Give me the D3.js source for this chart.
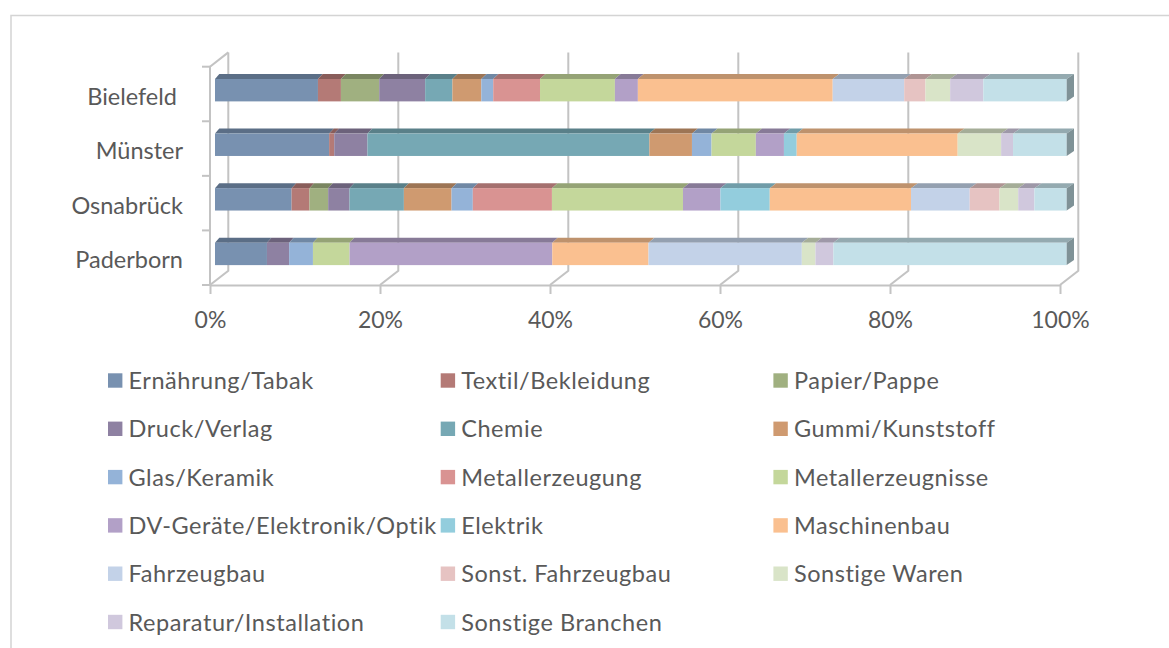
<!DOCTYPE html>
<meta charset="utf-8">
<title>Branchenstruktur</title>
<style>
    body {
        margin: 0;
        background: #fff;
    }

    text {
        font-family: Lato, "Open Sans", sans-serif;
        fill: #595959;
    }

    .wall {
        fill: none;
        stroke: #c3c3c3;
        stroke-width: 2;
    }

    .axis .domain,
    .axis line {
        stroke: #c3c3c3;
        stroke-width: 2;
    }
</style>

<body>
<svg width="1169" height="648"></svg>
</body>
<script src="https://d3js.org/d3.v7.min.js"></script>
<script>
    // cities (bars, top to bottom) - "Bielefeld " carries a trailing blank in the source sheet
    var cities = ["Bielefeld ", "Münster", "Osnabrück", "Paderborn"];

    var branches = ["Ernährung/Tabak", "Textil/Bekleidung", "Papier/Pappe", "Druck/Verlag", "Chemie",
        "Gummi/Kunststoff", "Glas/Keramik", "Metallerzeugung", "Metallerzeugnisse",
        "DV-Geräte/Elektronik/Optik", "Elektrik", "Maschinenbau", "Fahrzeugbau",
        "Sonst. Fahrzeugbau", "Sonstige Waren", "Reparatur/Installation", "Sonstige Branchen"];

    var colors = ["#7891b0", "#b47a76", "#a0b080", "#8e81a2", "#76a8b4", "#cf9a70", "#94b3d8",
        "#d99392", "#c4d79b", "#b2a0c7", "#93cddd", "#fac090", "#c3d2e8", "#e6c3c2",
        "#d9e4c8", "#d0c8dd", "#c3e0e8"];

    // shares in % per city: Bielefeld, Münster, Osnabrück, Paderborn
    var ernaehrung = [12.1, 13.4, 9.0, 6.1];
    var textil = [2.7, 0.6, 2.1, 0];
    var papier = [4.5, 0, 2.2, 0];
    var druck = [5.4, 3.9, 2.5, 2.6];
    var chemie = [3.2, 33.1, 6.4, 0];
    var gummi = [3.4, 5.0, 5.6, 0];
    var glas = [1.4, 2.3, 2.5, 2.8];
    var metallerzeugung = [5.5, 0, 9.3, 0];
    var metallerzeugnisse = [8.8, 5.2, 15.4, 4.3];
    var dvGeraete = [2.7, 3.3, 4.4, 23.8];
    var elektrik = [0, 1.5, 5.8, 0];
    var maschinenbau = [22.9, 18.9, 16.6, 11.3];
    var fahrzeugbau = [8.4, 0, 6.9, 18.0];
    var sonstFahrzeugbau = [2.5, 0, 3.5, 0];
    var sonstigeWaren = [2.9, 5.1, 2.2, 1.6];
    var reparatur = [3.9, 1.4, 1.9, 2.1];
    var sonstigeBranchen = [9.8, 6.3, 3.8, 27.4];

    var series = [ernaehrung, textil, papier, druck, chemie, gummi, glas, metallerzeugung,
        metallerzeugnisse, dvGeraete, elektrik, maschinenbau, fahrzeugbau, sonstFahrzeugbau,
        sonstigeWaren, reparatur, sonstigeBranchen];

    var table = cities.map(function(c, i) {
        var row = {city: c};
        branches.forEach(function(b, j) { row[b] = series[j][i]; });
        return row;
    });

    var stacked = d3.stack()
        .keys(branches)
        .offset(d3.stackOffsetExpand)(table);

    var svg = d3.select("svg");

    // chart frame
    svg.append("rect")
        .attr("x", 11).attr("y", 15.5)
        .attr("width", 1180).attr("height", 700)
        .attr("fill", "none")
        .attr("stroke", "#d4d4d4")
        .attr("stroke-width", 1.5);

    var floorX0 = 210,
        floorY = 285,
        depthX = 18.3,
        depthY = -14.3;

    var x = d3.scaleLinear().domain([0, 1]).range([0, 850]);
    var y = d3.scaleBand().domain(cities).range([66.7, floorY]);

    var ticks = x.ticks(5);

    // back wall gridlines + floor diagonals
    var walls = svg.append("g").attr("class", "walls");
    ticks.forEach(function(t) {
        var xf = floorX0 + x(t);
        walls.append("path")
            .attr("class", "wall")
            .attr("d", "M" + (xf + depthX) + "," + (y.range()[0] + depthY) +
                "L" + (xf + depthX) + "," + (floorY + depthY) +
                "L" + xf + "," + floorY);
    });
    // left wall
    walls.append("path")
        .attr("class", "wall")
        .attr("d", "M" + (floorX0 + depthX) + "," + (y.range()[0] + depthY) +
            "L" + floorX0 + "," + y.range()[0] + "L" + floorX0 + "," + floorY);
    // category tick marks at band edges
    cities.concat([null]).forEach(function(c) {
        var yy = c ? y(c) : floorY;
        walls.append("line")
            .attr("class", "wall")
            .attr("x1", floorX0 - 8).attr("x2", floorX0)
            .attr("y1", yy).attr("y2", yy);
    });

    // x axis on floor front
    var xAxis = svg.append("g")
        .attr("class", "axis")
        .attr("transform", "translate(" + floorX0 + "," + floorY + ")")
        .call(d3.axisBottom(x).ticks(5).tickFormat(d3.format(".0%")).tickSize(9).tickSizeOuter(0));
    xAxis.selectAll("text")
        .attr("y", 42.7).attr("dy", 0)
        .style("font-size", "23px");

    // category labels
    var yAxis = svg.append("g")
        .attr("transform", "translate(" + floorX0 + ",0)")
        .call(d3.axisLeft(y).tickSize(0).tickPadding(27));
    yAxis.select(".domain").remove();
    yAxis.selectAll("text")
        .attr("xml:space", "preserve")
        .attr("dy", "0.45em")
        .style("font-size", "23.5px");

    // 3d bars
    var barX0 = 215,
        barScale = 851.7 / 850,
        barH = 22.4,
        bdx = 4.3,
        bdy = -5,
        bStretch = 3 / 851.7;

    function bx(v) { return barX0 + x(v) * barScale; }
    function bxBack(px) { return px + bdx + (px - barX0) * bStretch; }
    function darker(c, k) {
        var r = d3.rgb(c);
        return d3.rgb(r.r * k, r.g * k, r.b * k).toString();
    }

    var bars = svg.append("g").attr("class", "bars");
    cities.forEach(function(c, i) {
        var y0 = y(c) + y.bandwidth() / 2 - 3.8 - barH / 2,
            y1 = y0 + barH;
        var g = bars.append("g");
        stacked.forEach(function(s, j) {
            var a = bx(s[i][0]), b = bx(s[i][1]);
            if (b - a <= 0) return;
            g.append("path")
                .attr("fill", darker(colors[j], 0.76))
                .attr("d", "M" + a + "," + y0 + "L" + b + "," + y0 +
                    "L" + bxBack(b) + "," + (y0 + bdy) + "L" + bxBack(a) + "," + (y0 + bdy) + "Z");
            g.append("rect")
                .attr("x", a).attr("y", y0)
                .attr("width", b - a).attr("height", barH)
                .attr("fill", colors[j]);
        });
        // right end face
        var last = stacked[stacked.length - 1],
            e = bx(last[i][1]);
        g.append("path")
            .attr("fill", darker(colors[colors.length - 1], 0.65))
            .attr("d", "M" + e + "," + y0 + "L" + bxBack(e) + "," + (y0 + bdy) +
                "L" + bxBack(e) + "," + (y1 + bdy) + "L" + e + "," + y1 + "Z");
    });

    // legend, 3 columns
    var legend = svg.append("g").attr("class", "legend")
        .selectAll("g")
        .data(branches)
        .enter()
        .append("g")
        .attr("transform", function(d, i) {
            return "translate(" + (108 + (i % 3) * 332.7) + "," + (380.5 + Math.floor(i / 3) * 48.3) + ")";
        });
    legend.append("rect")
        .attr("x", 0).attr("y", -7.2)
        .attr("width", 14.4).attr("height", 14.4)
        .attr("fill", function(d, i) { return colors[i]; });
    legend.append("text")
        .attr("x", 20.5).attr("y", 8.6)
        .style("font-size", "23.5px")
        .style("letter-spacing", "0.55px")
        .text(function(d) { return d; });
</script>
